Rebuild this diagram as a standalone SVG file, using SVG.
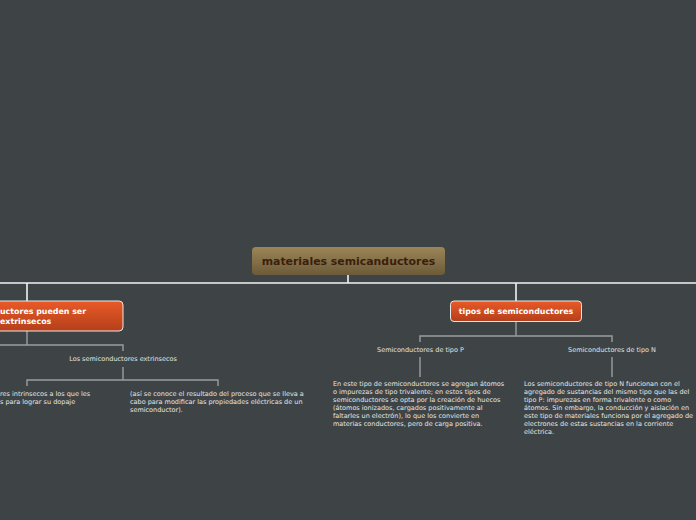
<svg xmlns="http://www.w3.org/2000/svg" width="696" height="520" viewBox="0 0 696 520">
<defs>
<linearGradient id="gRoot" x1="0" y1="0" x2="0" y2="1">
<stop offset="0" stop-color="#9c8658"/>
<stop offset="1" stop-color="#6c5a39"/>
</linearGradient>
<linearGradient id="gOr" x1="0" y1="0" x2="0" y2="1">
<stop offset="0" stop-color="#e95a27"/>
<stop offset="1" stop-color="#b43f1b"/>
</linearGradient>
<style>
.main{stroke:#f2f2f2;stroke-width:1.6;fill:none}
.sub{stroke:#9a9d9e;stroke-width:1.4;fill:none}
.rootT{font-family:"DejaVu Sans",Verdana,sans-serif;font-weight:bold;font-size:10.9px;fill:#3a1f0c}
.topT{font-family:"DejaVu Sans",Verdana,sans-serif;font-weight:bold;font-size:7.9px;fill:#ffffff}
.lbl{font-family:"DejaVu Sans",Verdana,sans-serif;font-size:6.5px;fill:#e4e4e4}
.txt{font-family:"DejaVu Sans",Verdana,sans-serif;font-size:6.5px;fill:#e6e6e6}
</style>
</defs>
<rect width="696" height="520" fill="#3e4445"/>
<g id="connectors">
<path class="main" d="M348 275V283M-5 283H701M27 283V301M516 283V301"/>
<path class="sub" d="M27 331V345M-5 345H123V351M123 367V380M27 386V380H218V386"/>
<path class="sub" d="M516 322V336M420 342V336H612V342M420 357V377M612 357V377"/>
</g>
<g id="root">
<rect x="252" y="247" width="193" height="28" rx="4" fill="url(#gRoot)"/>
<text class="rootT" x="348.5" y="265" text-anchor="middle">materiales semicanductores</text>
</g>
<g id="n-pueden">
<rect x="-20" y="301" width="143" height="30" rx="4" fill="url(#gOr)" stroke="#e8e8e8" stroke-width="1"/>
<text class="topT" x="0" y="314">uctores pueden ser</text>
<text class="topT" x="0" y="324">extrinsecos</text>
</g>
<g id="n-extrinsecos">
<text class="lbl" x="123" y="361" text-anchor="middle">Los semiconductores extrinsecos</text>
</g>
<g id="n-intrinsecos">
<text class="txt" x="0" y="396">res intrinsecos a los que les</text>
<text class="txt" x="0" y="404">s para lograr su dopaje</text>
</g>
<g id="n-asi">
<text class="txt" x="130" y="396">(así se conoce el resultado del proceso que se lleva a</text>
<text class="txt" x="130" y="404">cabo para modificar las propiedades eléctricas de un</text>
<text class="txt" x="130" y="412">semiconductor).</text>
</g>
<g id="n-tipos">
<rect x="450.5" y="301" width="131" height="20.5" rx="3.5" fill="url(#gOr)" stroke="#e8e8e8" stroke-width="1"/>
<text class="topT" x="516" y="314" text-anchor="middle">tipos de semiconductores</text>
</g>
<g id="n-tipoP">
<text class="lbl" x="420.5" y="351.5" text-anchor="middle">Semiconductores de tipo P</text>
</g>
<g id="n-tipoN">
<text class="lbl" x="612" y="351.5" text-anchor="middle">Semiconductores de tipo N</text>
</g>
<g id="n-textoP">
<text class="txt" x="333" y="386">En este tipo de semiconductores se agregan átomos</text>
<text class="txt" x="333" y="394">o impurezas de tipo trivalente; en estos tipos de</text>
<text class="txt" x="333" y="402">semiconductores se opta por la creación de huecos</text>
<text class="txt" x="333" y="410">(átomos ionizados, cargados positivamente al</text>
<text class="txt" x="333" y="418">faltarles un electrón), lo que los convierte en</text>
<text class="txt" x="333" y="426">materias conductores, pero de carga positiva.</text>
</g>
<g id="n-textoN">
<text class="txt" x="524" y="386">Los semiconductores de tipo N funcionan con el</text>
<text class="txt" x="524" y="394">agregado de sustancias del mismo tipo que las del</text>
<text class="txt" x="524" y="402">tipo P: impurezas en forma trivalente o como</text>
<text class="txt" x="524" y="410">átomos. Sin embargo, la conducción y aislación en</text>
<text class="txt" x="524" y="418">este tipo de materiales funciona por el agregado de</text>
<text class="txt" x="524" y="426">electrones de estas sustancias en la corriente</text>
<text class="txt" x="524" y="434">eléctrica.</text>
</g>
</svg>
